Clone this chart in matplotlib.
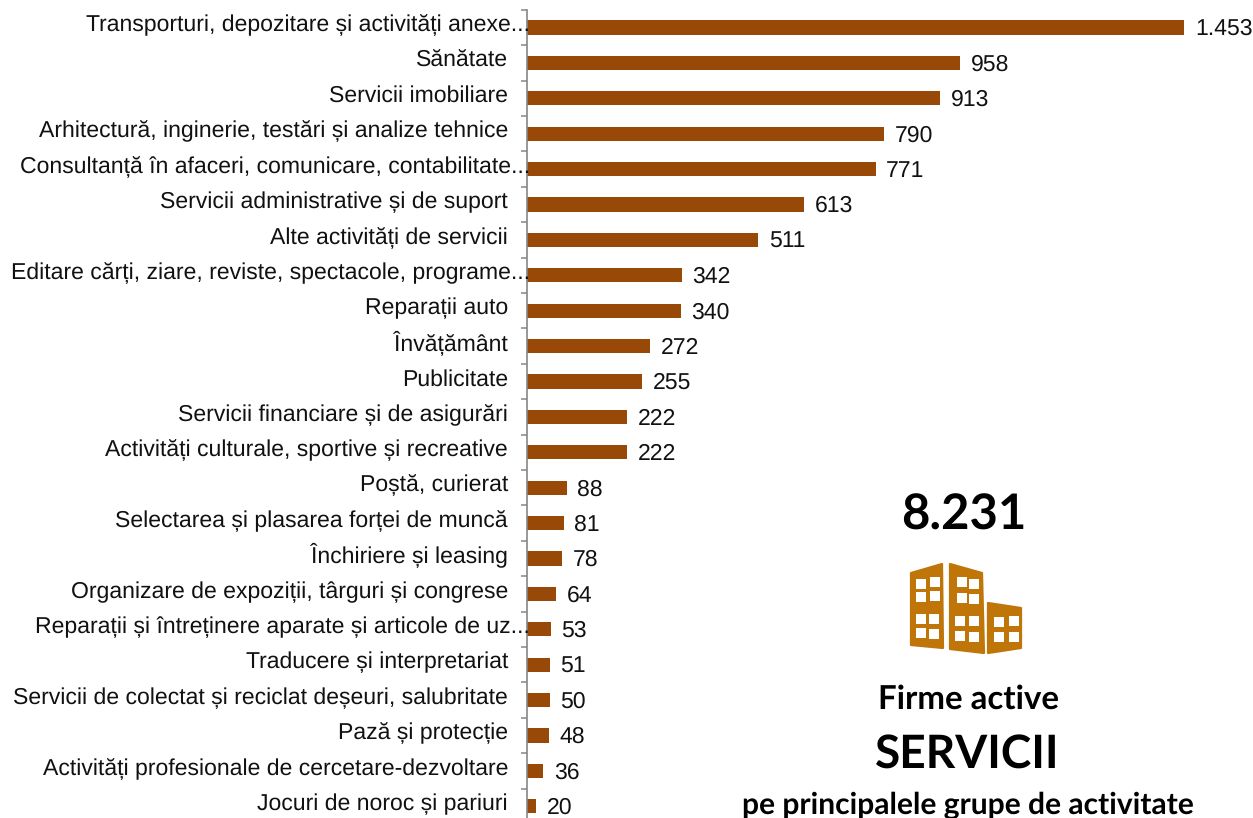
#!/usr/bin/env python3
"""Firme active in servicii, pe principalele grupe de activitate."""

import matplotlib

matplotlib.use("Agg")
import matplotlib.pyplot as plt
from matplotlib.patches import Polygon

categories = [
    "Transporturi, depozitare și activități anexe...",
    "Sănătate",
    "Servicii imobiliare",
    "Arhitectură, inginerie, testări și analize tehnice",
    "Consultanță în afaceri, comunicare, contabilitate...",
    "Servicii administrative și de suport",
    "Alte activități de servicii",
    "Editare cărți, ziare, reviste, spectacole, programe...",
    "Reparații auto",
    "Învățământ",
    "Publicitate",
    "Servicii financiare și de asigurări",
    "Activități culturale, sportive și recreative",
    "Poștă, curierat",
    "Selectarea și plasarea forței de muncă",
    "Închiriere și leasing",
    "Organizare de expoziții, târguri și congrese",
    "Reparații și întreținere aparate și articole de uz...",
    "Traducere și interpretariat",
    "Servicii de colectat și reciclat deșeuri, salubritate",
    "Pază și protecție",
    "Activități profesionale de cercetare-dezvoltare",
    "Jocuri de noroc și pariuri",
]
values = [1453, 958, 913, 790, 771, 613, 511, 342, 340, 272, 255, 222, 222,
          88, 81, 78, 64, 53, 51, 50, 48, 36, 20]

BAR = "#984807"
ICON = "#C07508"
GREY = "#868686"
W, H = 1253, 818

plt.rcParams["font.family"] = ["Liberation Sans", "DejaVu Sans"]
plt.rcParams["text.hinting"] = "no_hinting"
plt.rcParams["text.hinting_factor"] = 1


def px_axes(fig, left, top, right, bottom):
    return fig.add_axes([left / W, 1 - bottom / H, (right - left) / W, (bottom - top) / H])


def fmt(v):
    return f"{v:,}".replace(",", ".")


def draw_icon(ax):
    # buildings, in pixel coordinates
    shapes = [
        [(911, 573), (942, 564), (943, 648), (911, 645)],
        [(950, 564), (982, 573), (984, 653), (950, 649)],
        [(988, 603), (1021, 608), (1021, 648), (988, 653)],
    ]
    windows = [
        (916, 579), (930, 577), (916, 592), (930, 591), (916, 614), (929, 614), (916, 628), (929, 629),
        (957, 577), (969, 579), (957, 593), (969, 594), (955, 616), (969, 616), (955, 631), (969, 632),
        (994, 617), (1009, 616), (994, 632), (1009, 632),
    ]
    for s in shapes:
        ax.add_patch(Polygon(s, closed=True, fc=ICON, ec=ICON, lw=1.6, joinstyle="round"))
    for x, y in windows:
        ax.add_patch(Polygon([(x, y), (x + 9.5, y), (x + 9.5, y + 9.5), (x, y + 9.5)],
                             closed=True, fc="white", ec="none"))


def main():
    fig = plt.figure(figsize=(W / 100, H / 100), dpi=100)
    n = len(values)
    step = 35.4
    top = 9.8
    ax = px_axes(fig, 527, top, W, top + n * step)
    ypos = list(range(n))
    ax.barh(ypos, values, height=0.4, color=BAR)
    ax.set_xlim(0, (W - 527) / 0.4525)
    ax.set_ylim(n - 0.5, -0.5)
    ax.xaxis.set_visible(False)
    for side in ("top", "right", "bottom"):
        ax.spines[side].set_visible(False)
    ax.spines["left"].set_color(GREY)
    ax.spines["left"].set_linewidth(1.2)
    ax.set_yticks([i - 0.5 for i in range(n + 1)])
    ax.set_yticklabels([])
    ax.tick_params(axis="y", length=4.5, width=1.1, color=GREY)

    trans = ax.get_yaxis_transform()
    for i, (name, v) in enumerate(zip(categories, values)):
        # truncated labels run right up to the axis, the others stop short of it
        off = 3 if name.endswith("...") else -19
        ax.annotate(name, (0, i), xycoords=trans, xytext=(off * 0.72, -3.9 * 0.72), textcoords="offset points",
                    ha="right", va="baseline", fontsize=16.7, color="#111111", annotation_clip=False)
        ax.annotate(fmt(v), (v, i), xytext=(10.4 * 0.72, -7.7 * 0.72), textcoords="offset points",
                    ha="left", va="baseline", fontsize=16.7, color="#111111", annotation_clip=False)

    over = px_axes(fig, 0, 0, W, H)
    over.set_xlim(0, W)
    over.set_ylim(H, 0)
    over.axis("off")
    over.patch.set_alpha(0)
    draw_icon(over)
    for txt, x, y, size in [
        ("8.231", 964, 516, 35),
        ("Firme active", 968, 699, 23.6),
        ("SERVICII", 967, 755, 33),
        ("pe principalele grupe de activitate", 968, 805, 21.5),
    ]:
        over.text(x, y, txt, ha="center", va="center", fontsize=size, fontweight="bold",
                  family=["Lato", "DejaVu Sans"], color="black")

    fig.savefig("out.png", dpi=100)
    plt.close(fig)


if __name__ == "__main__":
    main()
